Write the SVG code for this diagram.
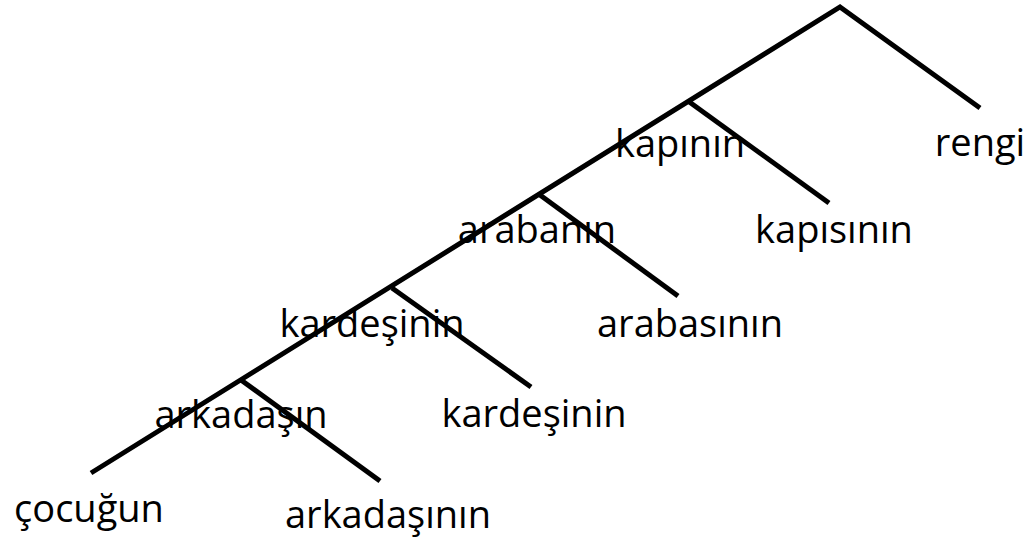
<svg xmlns="http://www.w3.org/2000/svg" width="1028" height="541" viewBox="0 0 1028 541">
<style>
.e{stroke:#000;stroke-width:5;fill:none;stroke-linecap:butt}
text{font-family:"Open Sans","Noto Sans","Liberation Sans",sans-serif;font-size:38px;fill:#000;text-anchor:middle}
</style>
<rect width="1028" height="541" fill="#fff"/>
<g id="connectors">
<polyline class="e" points="91,473 840,7 980,108"/>
<line class="e" x1="688" y1="101" x2="829" y2="203"/>
<line class="e" x1="540" y1="195" x2="678" y2="296"/>
<line class="e" x1="392" y1="288" x2="531" y2="387"/>
<line class="e" x1="241" y1="380" x2="380" y2="481"/>
</g>
<g id="n-rengi"><text x="980" y="156">rengi</text></g>
<g id="n-kapinin"><text x="680" y="157">kapının</text></g>
<g id="n-kapisinin"><text x="834" y="243">kapısının</text></g>
<g id="n-arabanin"><text x="537" y="243">arabanın</text></g>
<g id="n-arabasinin"><text x="690" y="337">arabasının</text></g>
<g id="n-kardesinin1"><text x="372" y="337">kardeşinin</text></g>
<g id="n-kardesinin2"><text x="534" y="427">kardeşinin</text></g>
<g id="n-arkadasin"><text x="241" y="428">arkadaşın</text></g>
<g id="n-cocugun"><text x="89" y="522">çocuğun</text></g>
<g id="n-arkadasinin"><text x="388" y="528">arkadaşının</text></g>
</svg>
